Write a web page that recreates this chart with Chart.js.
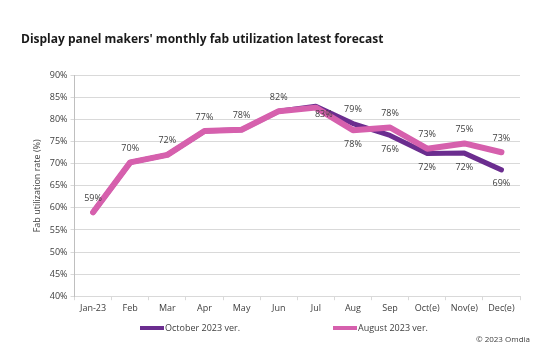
<!DOCTYPE html>
<html>
<head>
<meta charset="utf-8">
<script src="https://cdn.jsdelivr.net/npm/chart.js@4.4.0/dist/chart.umd.min.js"></script>
<style>
    html, body { margin: 0; padding: 0; background: #fff; }
    #wrap { width: 555px; height: 363px; position: relative; }
</style>
</head>
<body>
<div id="wrap"><canvas id="chart"></canvas></div>
<script>
'use strict';

// Chart data
const months = ['Jan-23', 'Feb', 'Mar', 'Apr', 'May', 'Jun', 'Jul', 'Aug', 'Sep', 'Oct(e)', 'Nov(e)', 'Dec(e)'];
const octoberVer = [59.0, 70.3, 72.0, 77.4, 77.7, 81.9, 83.0, 79.1, 76.4, 72.3, 72.4, 68.6];
const augustVer = [59.0, 70.3, 72.0, 77.4, 77.7, 81.9, 82.7, 77.6, 78.2, 73.4, 74.6, 72.6];
const yTicks = [40, 45, 50, 55, 60, 65, 70, 75, 80, 85, 90];

// Where each value label sits (null = no label)
const octoberLabelPos = [null, null, null, null, null, null, 'belowRight', 'above', 'below', 'below', 'below', 'below'];
const augustLabelPos = ['above', 'above', 'above', 'above', 'above', 'above', null, 'below', 'above', 'above', 'above', 'above'];

const fontFamily = '"Open Sans", "Noto Sans", sans-serif';
const purple = '#6b2d8f';
const pink = '#d660ad';

const valueLabels = {
    id: 'valueLabels',
    afterDatasetsDraw(chart) {
        const ctx = chart.ctx;
        ctx.save();
        ctx.font = '9px ' + fontFamily;
        ctx.fillStyle = '#404040';
        ctx.textAlign = 'center';
        ctx.textBaseline = 'middle';
        chart.data.datasets.forEach((ds, di) => {
            const meta = chart.getDatasetMeta(di);
            ds.labelPos.forEach((pos, i) => {
                if (!pos) return;
                const pt = meta.data[i];
                let dx = 0;
                let dy = pos === 'above' ? -14 : 14;
                if (pos === 'belowRight') {
                    dx = 8;
                    dy = 8;
                }
                ctx.fillText(Math.round(ds.data[i]) + '%', pt.x + dx, pt.y + dy);
            });
        });
        ctx.restore();
    },
    afterDraw(chart) {
        const ctx = chart.ctx;
        ctx.save();
        // legend
        const items = [
            { ds: chart.data.datasets[0], x: 140 },
            { ds: chart.data.datasets[1], x: 333 },
        ];
        ctx.font = '9px ' + fontFamily;
        ctx.textBaseline = 'middle';
        ctx.textAlign = 'left';
        items.forEach((item) => {
            ctx.strokeStyle = item.ds.borderColor;
            ctx.lineWidth = 4;
            ctx.beginPath();
            ctx.moveTo(item.x, 328);
            ctx.lineTo(item.x + 24, 328);
            ctx.stroke();
            ctx.fillStyle = '#404040';
            ctx.fillText(item.ds.label, item.x + 25, 328);
        });
        // source
        ctx.font = '8px ' + fontFamily;
        ctx.fillStyle = '#404040';
        ctx.textAlign = 'right';
        ctx.fillText('\u00a9 2023 Omdia', 530, 340);
        ctx.restore();
    },
};

new Chart(document.getElementById('chart'), {
    type: 'line',
    data: {
        labels: months,
        datasets: [
            {
                label: 'October 2023 ver.',
                data: octoberVer,
                labelPos: octoberLabelPos,
                borderColor: purple,
                backgroundColor: purple,
                borderWidth: 5,
                pointRadius: 0,
                tension: 0,
                borderCapStyle: 'round',
                borderJoinStyle: 'round',
                order: 1,
            },
            {
                label: 'August 2023 ver.',
                data: augustVer,
                labelPos: augustLabelPos,
                borderColor: pink,
                backgroundColor: pink,
                borderWidth: 6,
                pointRadius: 0,
                tension: 0,
                borderCapStyle: 'round',
                borderJoinStyle: 'round',
                order: 0,
            },
        ],
    },
    options: {
        responsive: true,
        maintainAspectRatio: false,
        animation: false,
        layout: {
            padding: { left: 21, right: 35, top: 0, bottom: 46 },
        },
        plugins: {
            legend: { display: false },
            tooltip: { enabled: false },
            title: {
                display: true,
                text: "Display panel makers' monthly fab utilization latest forecast",
                align: 'start',
                color: '#1a1a1a',
                font: { family: fontFamily, size: 12, weight: 'bold' },
                padding: { top: 32, bottom: 29 },
            },
        },
        scales: {
            x: {
                offset: true,
                grid: {
                    display: true,
                    drawOnChartArea: false,
                    drawTicks: true,
                    tickLength: 4,
                    color: '#d9d9d9',
                    offset: true,
                },
                border: { color: '#d9d9d9' },
                ticks: {
                    color: '#404040',
                    padding: 3,
                    maxRotation: 0,
                    autoSkip: false,
                    font: { family: fontFamily, size: 9 },
                },
            },
            y: {
                min: 40,
                max: 90,
                afterBuildTicks(scale) {
                    scale.ticks = yTicks.map((v) => ({ value: v }));
                },
                grid: {
                    color: '#d9d9d9',
                    drawTicks: true,
                    tickLength: 4,
                },
                border: { color: '#bfbfbf' },
                ticks: {
                    color: '#404040',
                    padding: 3,
                    font: { family: fontFamily, size: 9 },
                    callback: (v) => v + '%',
                },
                title: {
                    display: true,
                    text: 'Fab utilization rate (%)',
                    color: '#404040',
                    font: { family: fontFamily, size: 9 },
                    padding: { top: 11, bottom: 4 },
                },
            },
        },
    },
    plugins: [valueLabels],
});
</script>
</body>
</html>
